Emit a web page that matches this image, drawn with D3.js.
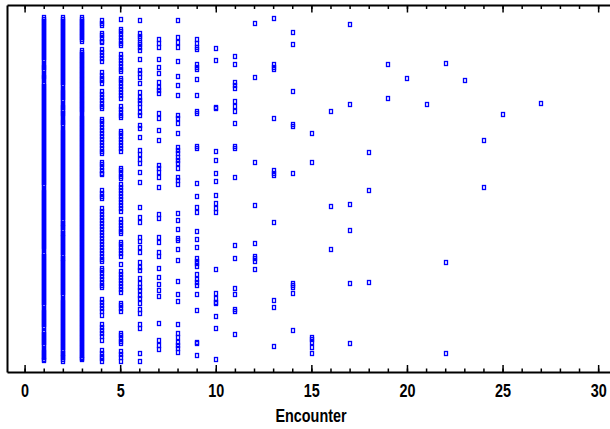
<!DOCTYPE html>
<html>
<head>
<meta charset="utf-8">
<script src="https://cdn.jsdelivr.net/npm/d3@7.9.0/dist/d3.min.js"></script>
<style>
  body { margin: 0; background: #fff; }
  svg { display: block; }
</style>
</head>
<body>
<svg id="chart"></svg>
<script>
// subject rank (0 = top row) for every encounter number
const e1 = [12,14,16,17,19,21,22,24,26,27,29,31,32,34,36,37,39,41,42,44,46,47,49,51,52,54,56,59,61,62,64,66,69,71,72,74,77,79,81,82,84,86,87,89,91,92,94,96,97,99,101,102,104,106,107,109,111,112,114,116,117,119,121,122,124,126,127,129,131,132,134,136,137,139,141,142,144,146,147,149,151,152,154,156,157,159,161,162,164,166,167,169,171,172,174,176,177,179,181,184,186,187,189,191,192,194,196,197,199,201,202,204,206,207,209,211,212,214,216,217,219,221,222,224,226,227,229,231,232,234,236,237,239,241,242,244,247,249,251,252,254,256,257,259,261,262,264,266,267,269,271,272,274,276,277,279,281,282,284,286,287,289,291,292,294,296,297,299,301,304,306,307,309,311,312,314,316,317,319,321,322,326,327,329,331,332,334,336,337,339,341,344,346,347,349,351,352,354,355];
const e2 = [12,14,16,17,19,21,22,24,26,27,29,31,32,34,36,37,39,41,42,44,46,47,49,51,52,54,56,57,59,61,62,64,66,67,69,71,72,74,76,77,79,81,84,86,87,89,91,92,94,96,99,101,102,104,106,108,109,111,114,116,117,119,121,124,126,127,129,131,132,134,136,137,139,141,142,144,146,147,149,151,152,154,156,157,159,161,162,164,166,167,169,171,172,174,176,177,179,181,182,184,186,187,189,191,192,194,196,197,199,201,202,204,206,207,209,211,212,214,216,218,219,221,222,224,226,228,229,231,232,234,236,237,239,241,242,244,246,247,249,251,253,254,256,257,259,261,262,264,266,267,269,271,272,274,276,277,279,281,282,284,286,287,289,291,294,296,297,299,301,302,304,306,307,309,311,312,314,316,317,319,321,322,324,326,327,329,331,332,334,336,337,339,341,342,344,346,348,349,351,352,354,356];
const e3 = [12,14,16,17,19,21,22,24,26,27,29,31,32,34,36,45,47,49,50,52,54,55,57,59,60,62,64,65,67,69,70,72,74,75,77,79,80,82,84,85,87,89,90,92,94,95,97,99,100,102,104,105,107,110,112,113,115,117,118,120,122,123,125,127,128,130,132,133,135,137,138,140,142,143,145,147,148,150,152,153,155,157,158,160,162,163,165,167,168,170,172,173,175,177,178,180,182,183,185,187,188,190,192,193,195,197,198,200,202,203,205,207,208,210,212,213,215,217,218,220,222,223,225,227,228,230,232,233,235,237,238,240,242,243,245,247,248,250,252,253,255,257,258,260,262,263,265,267,268,270,272,273,275,277,278,280,282,283,285,287,288,290,292,293,295,297,298,300,302,303,305,307,308,310,312,313,315,317,318,320,322,323,325,327,328,330,332,333,335,337,338,340,342,343,345,347,348,350,352,353,354];
const e4 = [15,18,20,27.5,30,33,36,37.5,44,47,50,53,56,67,70,73,75,77.5,86,89,92,95,98,101,102.5,113.5,116,119,122,125,128,131,134,137,140,143,146,148,156.5,159,162,165,168,169,185,188,191,193.5,203,206,209,212,215,218,221,224,227,230,233,236,239,242,245,248,251,254,256,262.5,265,268,271,274,277,280,282,294,297,300,303,306,309.5,319,322,325,328,331,335,345,348,351,353,356];
const e5 = [13.5,23.5,26,29,32,35,38,39.5,49.5,52,55,58,61,64,65.5,72.5,75,78,81,84,87,90,92.5,101.5,104,107,110,112.5,125.5,128,131,134,137,140,143,145.5,162.5,165,168,171,172.5,179,182,185,188,191,194,197,200,203,206,214,217,220,223,226,227.5,236.5,239,242,245,248,251,259,266,269,272,275,278,281,284,286.5,297.5,300,303,306,327.5,330,333,336,337.5,346,349,352,356];
const e6 = [15,28,31,33,37,39,42,45,54,65,68,72,78,87,92,95,98,102,107,110,120,123,132,145,149,154,158,167,177,202,212,217,232,236,242,247,257,262,265,273,278,282,285,290,293,298,304,308,319,323,348,356];
const e7 = [34,38,42,54,62,68,77,82,85,88,108,113,125,135,160,163,167,172,182,209,213,232,237,247,251,263,272,279,285,291,318,335,340,344];
const e8 = [15,32,37,42,56,71,80,90,110,113,118,128,142,145,148,152,155,158,163,172,175,179,208,215,224,233,235,244,255,276,289,296,319,328,332,337,340,343,347];
const e9 = [34,38,42,44,59,62,64,74,90,106,108,141,143,178,191,202,207,226,234,242,253,256,258,261,269,274,277,280,289,305,337,338,350];
const e10 = [43,55,102,103,146,155,168,176,190,198,203,207,264,288,293,297,298,311,323,354];
const e11 = [51,59,77,80,83,96,101,106,118,141,143,172,240,253,283,289,304,306,329];
const e12 = [18,72,157,200,238,251,253,256,264];
const e13 = [13,59,62,64,113,165,168,170,217,295,302,341];
const e14 = [27,39,86,119,121,168,278,280,282,288,325];
const e15 = [128,157,332,334,337,342,348];
const e16 = [106,201,244];
const e17 = [19,99,199,225,278,338];
const e18 = [147,185,277];
const e19 = [59,93];
const e20 = [73];
const e21 = [99];
const e22 = [58,257,348];
const e23 = [75];
const e24 = [135,182];
const e25 = [109];
const e27 = [98];

const columns = [[1,e1],[2,e2],[3,e3],[4,e4],[5,e5],[6,e6],[7,e7],[8,e8],[9,e9],[10,e10],
  [11,e11],[12,e12],[13,e13],[14,e14],[15,e15],[16,e16],[17,e17],[18,e18],[19,e19],[20,e20],
  [21,e21],[22,e22],[23,e23],[24,e24],[25,e25],[27,e27]];

const xTickLabels = [0, 5, 10, 15, 20, 25, 30];
const xMinorTicks = d3.range(0, 31);
const xTitle = 'Encounter';

const width = 610;
const height = 429;

const points = [];
columns.forEach(([enc, ys]) => ys.forEach(v => points.push({ enc: enc, rank: v })));

const svg = d3.select('#chart')
    .attr('width', width)
    .attr('height', height);

const x = d3.scaleLinear()
    .domain([-0.92, 30.62])
    .range([7, 610]);

const y = d3.scaleLinear()
    .domain([0, 367])
    .range([5, 372]);

const fontFamily = 'Arial, "Liberation Sans", sans-serif';

// points first so the axis lines sit on top
svg.append('g')
    .selectAll('rect')
    .data(points)
    .join('rect')
    .attr('x', d => Math.round(x(d.enc) - 1.5) + 0.5)
    .attr('y', d => Math.round(y(d.rank) - 2) + 0.5)
    .attr('width', 3)
    .attr('height', 4)
    .attr('fill', 'none')
    .attr('stroke', '#0000ff')
    .attr('stroke-width', 1.3);

// bottom axis: minor ticks
svg.append('g')
    .attr('transform', 'translate(0, 372)')
    .call(d3.axisBottom(x).tickValues(xMinorTicks).tickSizeInner(-3.5).tickSizeOuter(0).tickFormat(''))
    .call(g => g.select('.domain').attr('stroke-width', 2))
    .call(g => g.selectAll('.tick line').attr('stroke-width', 1.5));

// bottom axis: major ticks + labels
svg.append('g')
    .attr('transform', 'translate(0, 372)')
    .call(d3.axisBottom(x).tickValues(xTickLabels).tickSizeInner(-7).tickSizeOuter(0))
    .call(g => g.select('.domain').remove())
    .call(g => g.selectAll('.tick line').attr('stroke-width', 1.5))
    .call(g => g.selectAll('.tick text')
        .attr('y', 25)
        .attr('dy', 0)
        .attr('fill', '#000')
        .attr('font-size', 18)
        .attr('font-weight', 'bold')
        .attr('font-family', fontFamily)
        .attr('transform', 'scale(0.8,1)'));

// top frame line with ticks pointing down
svg.append('g')
    .attr('transform', 'translate(0, 5)')
    .call(d3.axisTop(x).tickValues(xMinorTicks).tickSizeInner(-4).tickSizeOuter(0).tickFormat(''))
    .call(g => g.select('.domain').attr('stroke-width', 2))
    .call(g => g.selectAll('.tick line').attr('stroke-width', 1.5));

svg.append('g')
    .attr('transform', 'translate(0, 5)')
    .call(d3.axisTop(x).tickValues(xTickLabels).tickSizeInner(-7.5).tickSizeOuter(0).tickFormat(''))
    .call(g => g.select('.domain').remove())
    .call(g => g.selectAll('.tick line').attr('stroke-width', 1.5));

// left frame line
svg.append('g')
    .attr('transform', 'translate(7, 0)')
    .call(d3.axisLeft(y).tickValues([]).tickSizeOuter(0))
    .call(g => g.select('.domain').attr('stroke-width', 2));

svg.append('text')
    .attr('transform', 'translate(311, 422) scale(0.8,1)')
    .attr('text-anchor', 'middle')
    .attr('font-size', 18)
    .attr('font-weight', 'bold')
    .attr('font-family', fontFamily)
    .text(xTitle);
</script>
</body>
</html>
